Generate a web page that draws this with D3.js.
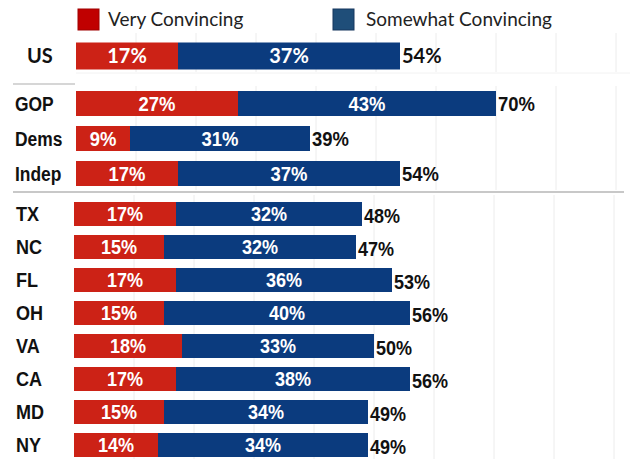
<!DOCTYPE html>
<html>
<head>
<meta charset="utf-8">
<script src="https://cdn.jsdelivr.net/npm/d3@7"></script>
<style>
  html, body { margin: 0; padding: 0; background: #ffffff; }
  svg { display: block; }
</style>
</head>
<body>
<svg id="chart" width="630" height="459"></svg>
<script>
// ---- data ----
const categories = ["US", "GOP", "Dems", "Indep", "TX", "NC", "FL", "OH", "VA", "CA", "MD", "NY"];
const groupOf    = [0, 1, 1, 1, 2, 2, 2, 2, 2, 2, 2, 2];
const veryConvincing     = [17, 27, 9, 17, 17, 15, 17, 15, 18, 17, 15, 14];
const somewhatConvincing = [37, 43, 31, 37, 32, 32, 36, 40, 33, 38, 34, 34];
const totalConvincing    = [54, 70, 39, 54, 48, 47, 53, 56, 50, 56, 49, 49];
const seriesNames = ["Very Convincing", "Somewhat Convincing"];
const gridTicks = [10, 20, 30, 40, 50, 60, 70, 80, 90];

// ---- layout ----
const colors = { very: "#cc2216", somewhat: "#0b3b7e", legendVery: "#c00000", legendSomewhat: "#1f4e79" };
const svg = d3.select("#chart");

const calibriLike = "Lato, 'Open Sans', sans-serif";
const helvLike = "'Liberation Sans', Arial, sans-serif";

const panels = [
  { x0: 76, top: 37.5, step: 37, bar: 27, gridTop: 33, gridBottom: 72, font: calibriLike, size: 20, numSx: 1, catSx: 1, labelX: 27, totalDy: 0 },
  { x0: 76, top: 86,   step: 35, bar: 25, gridTop: 86, gridBottom: 190, font: helvLike, size: 20.5, numSx: 0.9, catSx: 0.85, labelX: 15, totalDy: 0 },
  { x0: 74, top: 197.5, step: 33, bar: 24, gridTop: 195, gridBottom: 459, font: helvLike, size: 20.5, numSx: 0.88, catSx: 0.88, labelX: 16, totalDy: 2 }
];

const rows = categories.map((c, i) => ({
  cat: c, g: groupOf[i], very: veryConvincing[i], somewhat: somewhatConvincing[i], total: totalConvincing[i]
}));

// faint panel border under US
svg.append("line").attr("x1", 76).attr("x2", 630).attr("y1", 73).attr("y2", 73)
  .attr("stroke", "#f2f2f2").attr("stroke-width", 1);

// separators
svg.append("line").attr("x1", 13).attr("x2", 75).attr("y1", 84).attr("y2", 84)
  .attr("stroke", "#c8c8c8").attr("stroke-width", 1.5);
svg.append("line").attr("x1", 13).attr("x2", 624).attr("y1", 192).attr("y2", 192)
  .attr("stroke", "#c8c8c8").attr("stroke-width", 2);

function addText(sel, xf, yf, anchor, p, sx, fill, txt) {
  sel.append("text")
    .attr("transform", d => `translate(${xf(d)},${yf(d)}) scale(${sx},1)`)
    .attr("dy", "0.36em").attr("text-anchor", anchor)
    .attr("font-family", p.font).attr("font-weight", "bold").attr("font-size", p.size)
    .attr("fill", fill).text(txt);
}

// panels
panels.forEach((p, pi) => {
  const pr = rows.filter(r => r.g === pi);
  const x = d3.scaleLinear().domain([0, 100]).range([p.x0, p.x0 + 600]);
  const y = d3.scaleBand()
    .domain(pr.map(r => r.cat))
    .range([p.top, p.top + p.step * pr.length])
    .paddingInner((p.step - p.bar) / p.step)
    .paddingOuter((p.step - p.bar) / p.step / 2);

  svg.append("g").selectAll("line").data(gridTicks).join("line")
    .attr("x1", d => x(d)).attr("x2", d => x(d))
    .attr("y1", p.gridTop).attr("y2", p.gridBottom)
    .attr("stroke", "#ececec").attr("stroke-width", 1);

  const g = svg.append("g");
  const row = g.selectAll("g").data(pr).join("g");

  row.append("rect")
    .attr("x", x(0)).attr("y", d => y(d.cat))
    .attr("width", d => x(d.very) - x(0)).attr("height", y.bandwidth())
    .attr("fill", colors.very);
  row.append("rect")
    .attr("x", d => x(d.very)).attr("y", d => y(d.cat))
    .attr("width", d => x(d.total) - x(d.very)).attr("height", y.bandwidth())
    .attr("fill", colors.somewhat);

  const cy = d => y(d.cat) + y.bandwidth() / 2;

  addText(row, d => (x(0) + x(d.very)) / 2, cy, "middle", p, p.numSx, "#ffffff", d => d.very + "%");
  addText(row, d => (x(d.very) + x(d.total)) / 2, cy, "middle", p, p.numSx, "#ffffff", d => d.somewhat + "%");
  addText(row, d => x(d.total) + 2, d => cy(d) + p.totalDy, "start", p, p.numSx, "#111111", d => d.total + "%");
  addText(row, () => p.labelX, cy, "start", p, p.catSx, "#111111", d => d.cat);
});

// legend
const legendPos = [{ sx: 78, tx: 108, c: colors.legendVery, s: "#a00000" }, { sx: 333, tx: 366, c: colors.legendSomewhat, s: "#17375e" }];
const lg = svg.append("g").selectAll("g").data(seriesNames).join("g");
lg.append("rect")
  .attr("x", (d, i) => legendPos[i].sx).attr("y", 9)
  .attr("width", 21).attr("height", 21)
  .attr("fill", (d, i) => legendPos[i].c)
  .attr("stroke", (d, i) => legendPos[i].s).attr("stroke-width", 1);
lg.append("text")
  .attr("x", (d, i) => legendPos[i].tx).attr("y", 19.5).attr("dy", "0.36em")
  .attr("font-family", calibriLike).attr("font-size", 19)
  .attr("fill", "#222222").text(d => d);
</script>
</body>
</html>
